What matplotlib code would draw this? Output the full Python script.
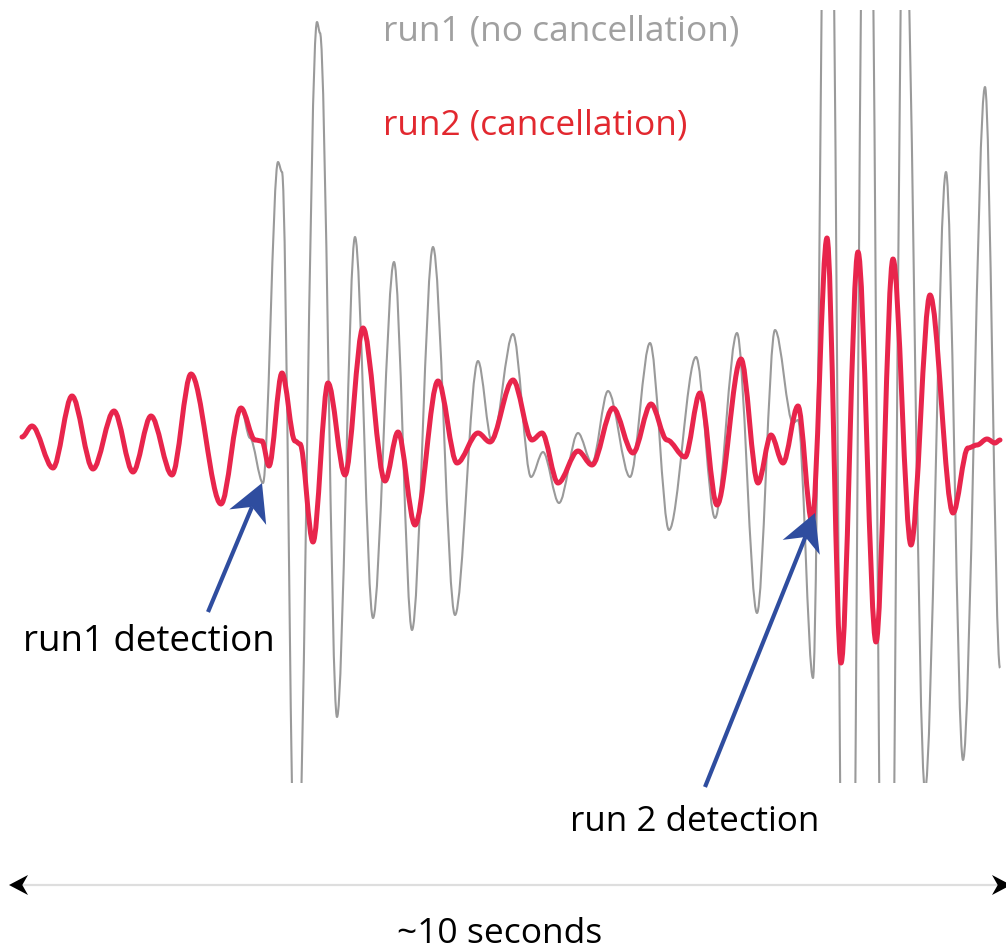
import numpy as np
import matplotlib
matplotlib.use("Agg")
import matplotlib.pyplot as plt
from matplotlib.path import Path
from matplotlib.patches import PathPatch, Polygon

# turning points of the two recordings (time in s, amplitude in arbitrary units)
# both runs are the same signal up to the first detection
shared_t = [0.17, 0.27, 0.48, 0.67, 0.88, 1.09, 1.28, 1.46, 1.67, 1.86, 2.16, 2.36]
shared_amp = [0.00, 0.11, -0.31, 0.41, -0.32, 0.26, -0.35, 0.21, -0.38, 0.63, -0.67, 0.29]

# run1: no cancellation
run1_t = shared_t + [2.45, 2.58, 2.73, 2.77, 2.91, 3.12, 3.15, 3.32, 3.50, 3.68,
                     3.89, 4.07, 4.28, 4.50, 4.73, 4.87, 5.08, 5.26, 5.38, 5.54,
                     5.73, 5.87, 6.03, 6.25, 6.45, 6.64, 6.91, 7.10, 7.32, 7.52,
                     7.70, 7.88, 7.93, 8.08, 8.23, 8.43, 8.62, 8.82, 8.99, 9.20,
                     9.41, 9.58, 9.80, 9.95]
run1_amp = shared_amp + [-0.01, -0.46, 2.75, 2.65, -5.13, 4.15, 4.04, -2.80, 2.00, -1.81,
                         1.75, -1.93, 1.90, -1.78, 0.76, -0.05, 1.03, -0.40, -0.15, -0.66,
                         0.04, -0.26, 0.46, -0.40, 0.94, -0.93, 0.80, -0.81, 1.04, -1.76,
                         1.07, 0.14, 0.17, -2.41, 8.57, -9.63, 8.87, -9.63, 5.87, -3.53,
                         2.65, -3.23, 3.50, -2.31]

# run2: with cancellation
run2_t = shared_t + [2.50, 2.57, 2.64, 2.77, 2.90, 2.95, 3.08, 3.23, 3.40, 3.58,
                     3.80, 3.93, 4.10, 4.33, 4.52, 4.73, 4.85, 5.08, 5.27, 5.37,
                     5.53, 5.73, 5.87, 6.08, 6.28, 6.46, 6.62, 6.80, 6.95, 7.12,
                     7.36, 7.53, 7.66, 7.78, 7.93, 8.07, 8.22, 8.36, 8.53, 8.71,
                     8.88, 9.06, 9.25, 9.48, 9.63, 9.72, 9.82, 9.90, 9.95]
run2_amp = shared_amp + [-0.03, -0.04, -0.29, 0.64, -0.04, -0.07, -1.05, 0.54, -0.38, 1.09,
                         -0.44, 0.05, -0.88, 0.56, -0.26, 0.04, -0.05, 0.57, -0.03, 0.04,
                         -0.46, -0.14, -0.28, 0.29, -0.16, 0.33, -0.03, -0.20, 0.44, -0.68,
                         0.78, -0.46, 0.02, -0.26, 0.31, -0.85, 1.99, -2.26, 1.85, -2.05,
                         1.78, -1.08, 1.42, -0.76, -0.11, -0.08, -0.02, -0.06, -0.03]

# where each run detected the event
detect_t = [2.57, 8.10]
detect_amp = [-0.46, -0.76]
detect_labels = ["run1 detection", "run 2 detection"]

GRAY = "#9a9a9a"
RED = "#e8254c"
BLUE = "#2f4d9f"
FONT = "Open Sans"


def smooth_path(t, y, k=1 / 3):
    # cubic segments with flat tangents at every turning point
    verts = [(t[0], y[0])]
    codes = [Path.MOVETO]
    for i in range(len(t) - 1):
        dt = (t[i + 1] - t[i]) * k
        verts += [(t[i] + dt, y[i]), (t[i + 1] - dt, y[i + 1]), (t[i + 1], y[i + 1])]
        codes += [Path.CURVE4] * 3
    return Path(verts, codes)


def stealth_arrow(ax, tail, tip, color, lw, L, W, notch=0.7, shaft_color=None):
    tail = np.asarray(tail, float)
    tip = np.asarray(tip, float)
    u = (tip - tail) / np.linalg.norm(tip - tail)
    n = np.array([-u[1], u[0]])
    back = tip - L * u
    inner = tip - notch * L * u
    ax.plot([tail[0], inner[0]], [tail[1], inner[1]], color=shaft_color or color,
            lw=lw, solid_capstyle="butt", zorder=5)
    ax.add_patch(Polygon([tip, back + W * n, inner, back - W * n], closed=True,
                         fc=color, ec="none", zorder=6))


fig = plt.figure(figsize=(10.06, 9.51), dpi=100)

# signal axes: 0-10 s across the width, clipped top and bottom
ax = fig.add_axes([5 / 1006, (951 - 783) / 951, 1000 / 1006, (783 - 10) / 951])
ax.set_xlim(0, 10)
ax.set_ylim(-3.46, 4.27)
ax.axis("off")

ax.add_patch(PathPatch(smooth_path(run1_t, run1_amp), fill=False, ec=GRAY, lw=1.5,
                       joinstyle="round", zorder=2))
ax.add_patch(PathPatch(smooth_path(run2_t, run2_amp), fill=False, ec=RED, lw=3.6,
                       joinstyle="round", capstyle="round", zorder=3))

# overlay in pixel units for labels and arrows
top = fig.add_axes([0, 0, 1, 1])
top.set_xlim(0, 1006)
top.set_ylim(951, 0)
top.axis("off")

top.text(383, 40, "run1 (no cancellation)", color="#a0a0a0", fontsize=25.4,
         family=FONT, va="baseline")
top.text(383, 135, "run2 (cancellation)", color="#e2282f", fontsize=25.4,
         family=FONT, va="baseline")

to_px = top.transData.inverted()
tails = [(208, 612), (705, 787)]
label_pos = [(23, 651), (570, 831)]
label_size = [26.5, 25.2]
for t, a, tail, pos, fs, lab in zip(detect_t, detect_amp, tails, label_pos,
                                    label_size, detect_labels):
    tip = to_px.transform(ax.transData.transform((t, a)))
    stealth_arrow(top, tail, tip, BLUE, 3.0, 37, 20)
    top.text(pos[0], pos[1], lab, color="black", fontsize=fs, family=FONT, va="baseline")

# time span marker
stealth_arrow(top, (510, 885), (9, 885), "black", 1.6, 19, 10, shaft_color="#dedede")
stealth_arrow(top, (510, 885), (1011, 885), "black", 1.6, 19, 10, shaft_color="#dedede")
top.text(500, 943, "~10 seconds", color="black", fontsize=25.5, family=FONT,
         ha="center", va="baseline")

fig.savefig("out.png", dpi=100)
